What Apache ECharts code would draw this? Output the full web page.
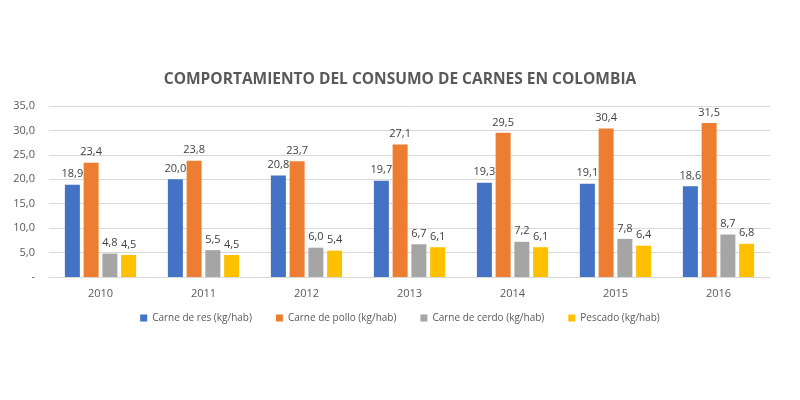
<!DOCTYPE html>
<html>
<head>
<meta charset="utf-8">
<script src="https://cdn.jsdelivr.net/npm/echarts@6/dist/echarts.min.js"></script>
<style>
html, body { margin: 0; padding: 0; background: #fff; }
#chart { width: 800px; height: 400px; }
</style>
</head>
<body>
<div id="chart"></div>
<script>
// datos
var years = ['2010', '2011', '2012', '2013', '2014', '2015', '2016'];
var seriesNames = ['Carne de res (kg/hab)', 'Carne de pollo (kg/hab)', 'Carne de cerdo (kg/hab)', 'Pescado (kg/hab)'];
var res = [18.9, 20.0, 20.8, 19.7, 19.3, 19.1, 18.6];
var pollo = [23.4, 23.8, 23.7, 27.1, 29.5, 30.4, 31.5];
var cerdo = [4.8, 5.5, 6.0, 6.7, 7.2, 7.8, 8.7];
var pescado = [4.5, 4.5, 5.4, 6.1, 6.1, 6.4, 6.8];
var colors = ['#4472C4', '#ED7D31', '#A5A5A5', '#FFC000'];

var myChart = echarts.init(document.getElementById('chart'));

function fmt(v) {
    return v.toFixed(1).replace('.', ',');
}

var allData = [res, pollo, cerdo, pescado];
var series = allData.map(function (d, i) {
    return {
        name: seriesNames[i],
        type: 'bar',
        data: d,
        barWidth: 15,
        barGap: '25%',
        itemStyle: { color: colors[i] },
        label: {
            show: true,
            position: 'top',
            distance: 5,
            color: '#404040',
            fontSize: 11,
            fontFamily: 'Open Sans',
            formatter: function (p) { return fmt(p.value); }
        }
    };
});

var option = {
    color: colors,
    animation: false,
    title: {
        text: 'COMPORTAMIENTO DEL CONSUMO DE CARNES EN COLOMBIA',
        left: 'center',
        top: 67,
        textStyle: {
            color: '#595959',
            fontSize: 15.5,
            fontWeight: 'bold',
            fontFamily: 'Open Sans'
        }
    },
    legend: {
        bottom: 72,
        left: 'center',
        itemWidth: 7,
        itemHeight: 7,
        itemGap: 24,
        icon: 'rect',
        textStyle: { color: '#595959', fontSize: 10, fontFamily: 'Open Sans' },
        data: seriesNames
    },
    grid: {
        left: 49,
        right: 30,
        top: 106,
        bottom: 123
    },
    xAxis: {
        type: 'category',
        data: years,
        axisLine: { lineStyle: { color: '#D9D9D9' } },
        axisTick: { show: false },
        axisLabel: { color: '#595959', fontSize: 11, margin: 11, fontFamily: 'Open Sans' }
    },
    yAxis: {
        type: 'value',
        min: 0,
        max: 35,
        interval: 5,
        axisLine: { show: false },
        axisTick: { show: false },
        splitLine: { lineStyle: { color: '#D9D9D9' } },
        axisLabel: {
            color: '#595959',
            fontSize: 11,
            margin: 14,
            fontFamily: 'Open Sans',
            formatter: function (v) { return v === 0 ? '-' : fmt(v); }
        }
    },
    series: series
};

myChart.setOption(option);
</script>
</body>
</html>
